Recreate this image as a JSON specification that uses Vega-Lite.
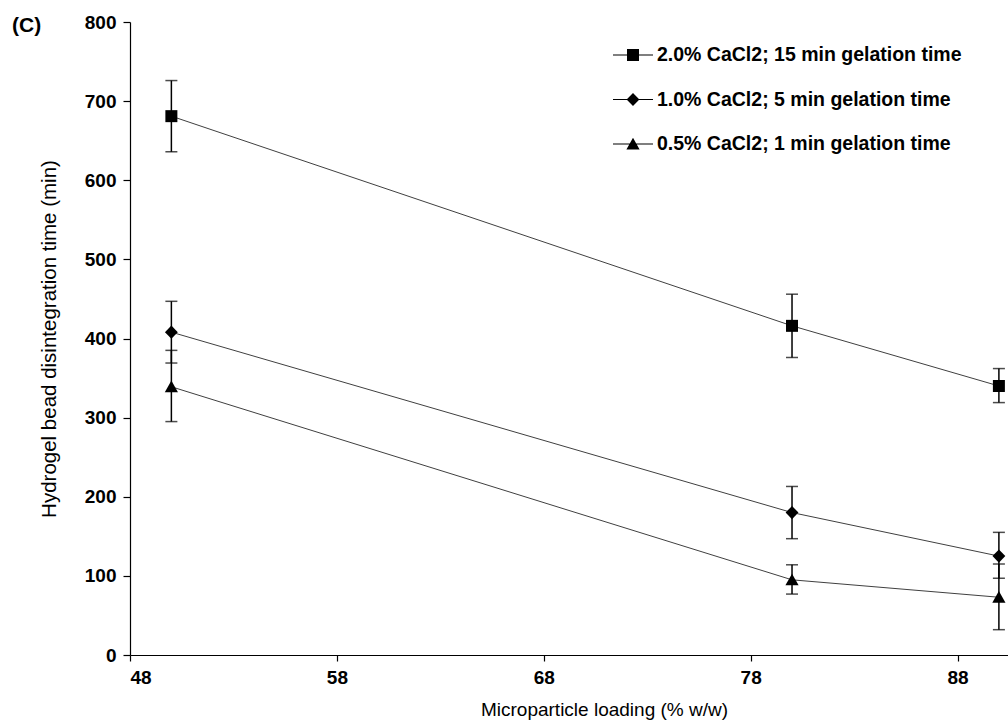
{
  "$schema": "https://vega.github.io/schema/vega-lite/v6.json",
  "width": 878,
  "height": 633,
  "autosize": "none",
  "padding": {"left": 130, "top": 22, "right": 0, "bottom": 70},
  "background": "white",
  "title": {"text": "(C)", "anchor": "start", "frame": "group", "dx": -118, "dy": 27, "fontSize": 21, "fontWeight": "bold", "font": "Liberation Sans", "color": "black"},
  "config": {
    "view": {"stroke": null},
    "font": "Liberation Sans",
    "axis": {"domainColor": "black", "tickColor": "black", "domainWidth": 1.2, "tickWidth": 1.2, "grid": false, "labelColor": "black", "titleColor": "black", "labelFont": "Liberation Sans", "titleFont": "Liberation Sans"}
  },
  "data": {"values": [
    {"series": "2.0% CaCl2; 15 min gelation time", "loading": 50, "time": 681, "lo": 636, "hi": 726},
    {"series": "2.0% CaCl2; 15 min gelation time", "loading": 80, "time": 416, "lo": 376, "hi": 456},
    {"series": "2.0% CaCl2; 15 min gelation time", "loading": 90, "time": 340, "lo": 319, "hi": 362},
    {"series": "1.0% CaCl2; 5 min gelation time", "loading": 50, "time": 408, "lo": 369, "hi": 447},
    {"series": "1.0% CaCl2; 5 min gelation time", "loading": 80, "time": 180, "lo": 147, "hi": 213},
    {"series": "1.0% CaCl2; 5 min gelation time", "loading": 90, "time": 125, "lo": 97, "hi": 155},
    {"series": "0.5% CaCl2; 1 min gelation time", "loading": 50, "time": 339, "lo": 295, "hi": 385},
    {"series": "0.5% CaCl2; 1 min gelation time", "loading": 80, "time": 95, "lo": 77, "hi": 114},
    {"series": "0.5% CaCl2; 1 min gelation time", "loading": 90, "time": 73, "lo": 32, "hi": 115}
  ]},
  "encoding": {
    "x": {"field": "loading", "type": "quantitative",
      "scale": {"domain": [48, 90.44], "nice": false, "zero": false},
      "axis": {"values": [48, 58, 68, 78, 88], "labelFontSize": 19, "labelFontWeight": "bold", "tickSize": 6, "labelPadding": 7,
        "title": "Microparticle loading (% w/w)", "titleFontSize": 19, "titleFontWeight": "normal", "titlePadding": 13, "titleX": 474}}
  },
  "resolve": {"scale": {"shape": "independent"}, "legend": {"shape": "independent"}},
  "layer": [
    {
      "mark": {"type": "line", "color": "#404040", "strokeWidth": 1},
      "encoding": {
        "y": {"field": "time", "type": "quantitative", "title": "Hydrogel bead disintegration time (min)",
          "scale": {"domain": [0, 800], "nice": false},
          "axis": {"values": [0, 100, 200, 300, 400, 500, 600, 700, 800], "labelFontSize": 19, "labelFontWeight": "bold", "tickSize": 7, "labelPadding": 7,
            "titleFontSize": 20.5, "titleFontWeight": "normal", "titlePadding": 25}},
        "detail": {"field": "series", "type": "nominal"}
      }
    },
    {
      "mark": {"type": "errorbar", "color": "black", "thickness": 1.5, "ticks": {"size": 12, "thickness": 1.5, "color": "black"}},
      "encoding": {
        "y": {"field": "lo", "type": "quantitative", "title": "Hydrogel bead disintegration time (min)"},
        "y2": {"field": "hi"},
        "detail": {"field": "series", "type": "nominal"}
      }
    },
    {
      "mark": {"type": "point", "filled": true, "opacity": 1, "color": "black", "strokeWidth": 0, "size": 144},
      "encoding": {
        "y": {"field": "time", "type": "quantitative", "title": "Hydrogel bead disintegration time (min)"},
        "shape": {"field": "series", "type": "nominal", "legend": null,
          "scale": {"domain": ["2.0% CaCl2; 15 min gelation time", "1.0% CaCl2; 5 min gelation time", "0.5% CaCl2; 1 min gelation time"],
            "range": ["M-1,-1L1,-1L1,1L-1,1Z", "M0,-1.1L1.07,0L0,1.1L-1.07,0Z", "M0,-1.03L1.1,0.9L-1.1,0.9Z"]}
        }
      }
    },
    {
      "mark": {"type": "point", "filled": true, "opacity": 0, "color": "black", "strokeWidth": 0, "size": 1600},
      "encoding": {
        "y": {"field": "time", "type": "quantitative", "title": "Hydrogel bead disintegration time (min)"},
        "shape": {"field": "series", "type": "nominal",
          "scale": {"domain": ["2.0% CaCl2; 15 min gelation time", "1.0% CaCl2; 5 min gelation time", "0.5% CaCl2; 1 min gelation time"],
            "range": [
              "M-1,-0.03L1,-0.03L1,0.03L-1,0.03ZM-0.3,-0.3L0.3,-0.3L0.3,0.3L-0.3,0.3Z",
              "M-1,-0.03L1,-0.03L1,0.03L-1,0.03ZM0,-0.33L0.32,0L0,0.33L-0.32,0Z",
              "M-1,-0.03L1,-0.03L1,0.03L-1,0.03ZM0,-0.31L0.33,0.27L-0.33,0.27Z"]},
          "legend": {
            "title": null, "orient": "none", "legendX": 483, "legendY": 13,
            "symbolSize": 1600, "labelFontSize": 19.5, "labelFontWeight": "bold", "labelColor": "black", "labelOffset": 4,
            "rowPadding": 14.5, "labelLimit": 500,
            "symbolOpacity": 1, "symbolFillColor": "black", "symbolStrokeWidth": 0
          }
        }
      }
    }
  ]
}
